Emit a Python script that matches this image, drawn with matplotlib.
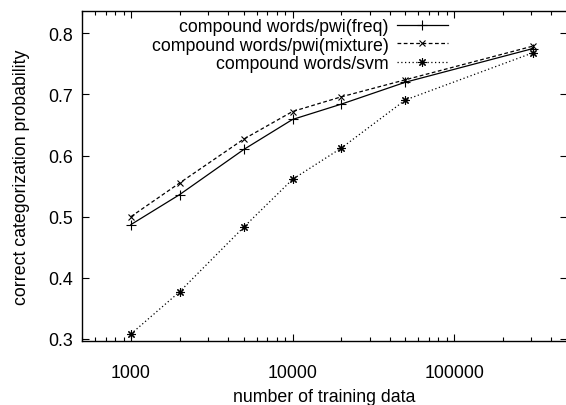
import matplotlib
matplotlib.use('Agg')
import matplotlib.pyplot as plt
from matplotlib.ticker import LogLocator, FixedLocator, NullFormatter

plt.rcParams['font.family'] = ['Liberation Sans', 'DejaVu Sans']

# training data sizes and accuracies
trainSizes = [1000, 2000, 5000, 10000, 20000, 50000, 307000]
freqAcc = [0.487, 0.536, 0.610, 0.659, 0.684, 0.720, 0.775]
mixtureAcc = [0.500, 0.555, 0.627, 0.672, 0.696, 0.724, 0.779]
svmAcc = [0.308, 0.377, 0.483, 0.561, 0.612, 0.691, 0.768]

seriesLabels = ['compound words/pwi(freq)', 'compound words/pwi(mixture)', 'compound words/svm']
xTicks = [1000, 10000, 100000]
yTicks = [0.3, 0.4, 0.5, 0.6, 0.7, 0.8]

fs = 12.8
W, H = 566, 406
fig = plt.figure(figsize=(W / 100, H / 100), dpi=100)
left, right, top, bottom = 82.3, 567.0, 11.7, 342.3
ax = fig.add_axes([left / W, 1 - bottom / H, (right - left) / W, (bottom - top) / H])

ax.plot(trainSizes, freqAcc, color='black', lw=0.9, ls='-', marker='+', ms=6.5, mew=0.8,
        label=seriesLabels[0])
ax.plot(trainSizes, mixtureAcc, color='black', lw=0.9, ls=(0, (3, 2)), marker='x', ms=5, mew=0.8,
        label=seriesLabels[1])
ax.plot(trainSizes, svmAcc, color='black', lw=0.9, ls=(0, (1, 2)), marker=(8, 2, 0), ms=6, mew=0.8,
        label=seriesLabels[2])

ax.set_xscale('log')
ax.set_xlim(500, 500000)
ax.set_ylim(0.296, 0.837)
ax.xaxis.set_major_locator(FixedLocator(xTicks))
ax.xaxis.set_minor_locator(LogLocator(base=10, subs=range(2, 10)))
ax.xaxis.set_minor_formatter(NullFormatter())
ax.set_xticklabels([str(t) for t in xTicks])
ax.set_yticks(yTicks)
ax.set_yticklabels([f'{t:.1f}' for t in yTicks])

ax.tick_params(which='both', direction='in', top=True, right=True, width=0.8, labelsize=fs)
ax.tick_params(axis='x', which='major', length=5, pad=16.5)
ax.tick_params(axis='x', which='minor', length=3)
ax.tick_params(axis='y', which='major', length=5, pad=7)
for sp in ax.spines.values():
    sp.set_linewidth(1.0)

ax.set_xlabel('number of training data', fontsize=fs, labelpad=5)
ax.set_ylabel('correct categorization probability', fontsize=fs, labelpad=12.5)

ax.legend(loc='upper right', bbox_to_anchor=(457 / W, 1 - 10 / H), bbox_transform=fig.transFigure,
          frameon=False, markerfirst=False, borderpad=0, handlelength=2.9, handletextpad=0.45,
          labelspacing=0.1, fontsize=fs)

fig.savefig('out.png', dpi=100)
